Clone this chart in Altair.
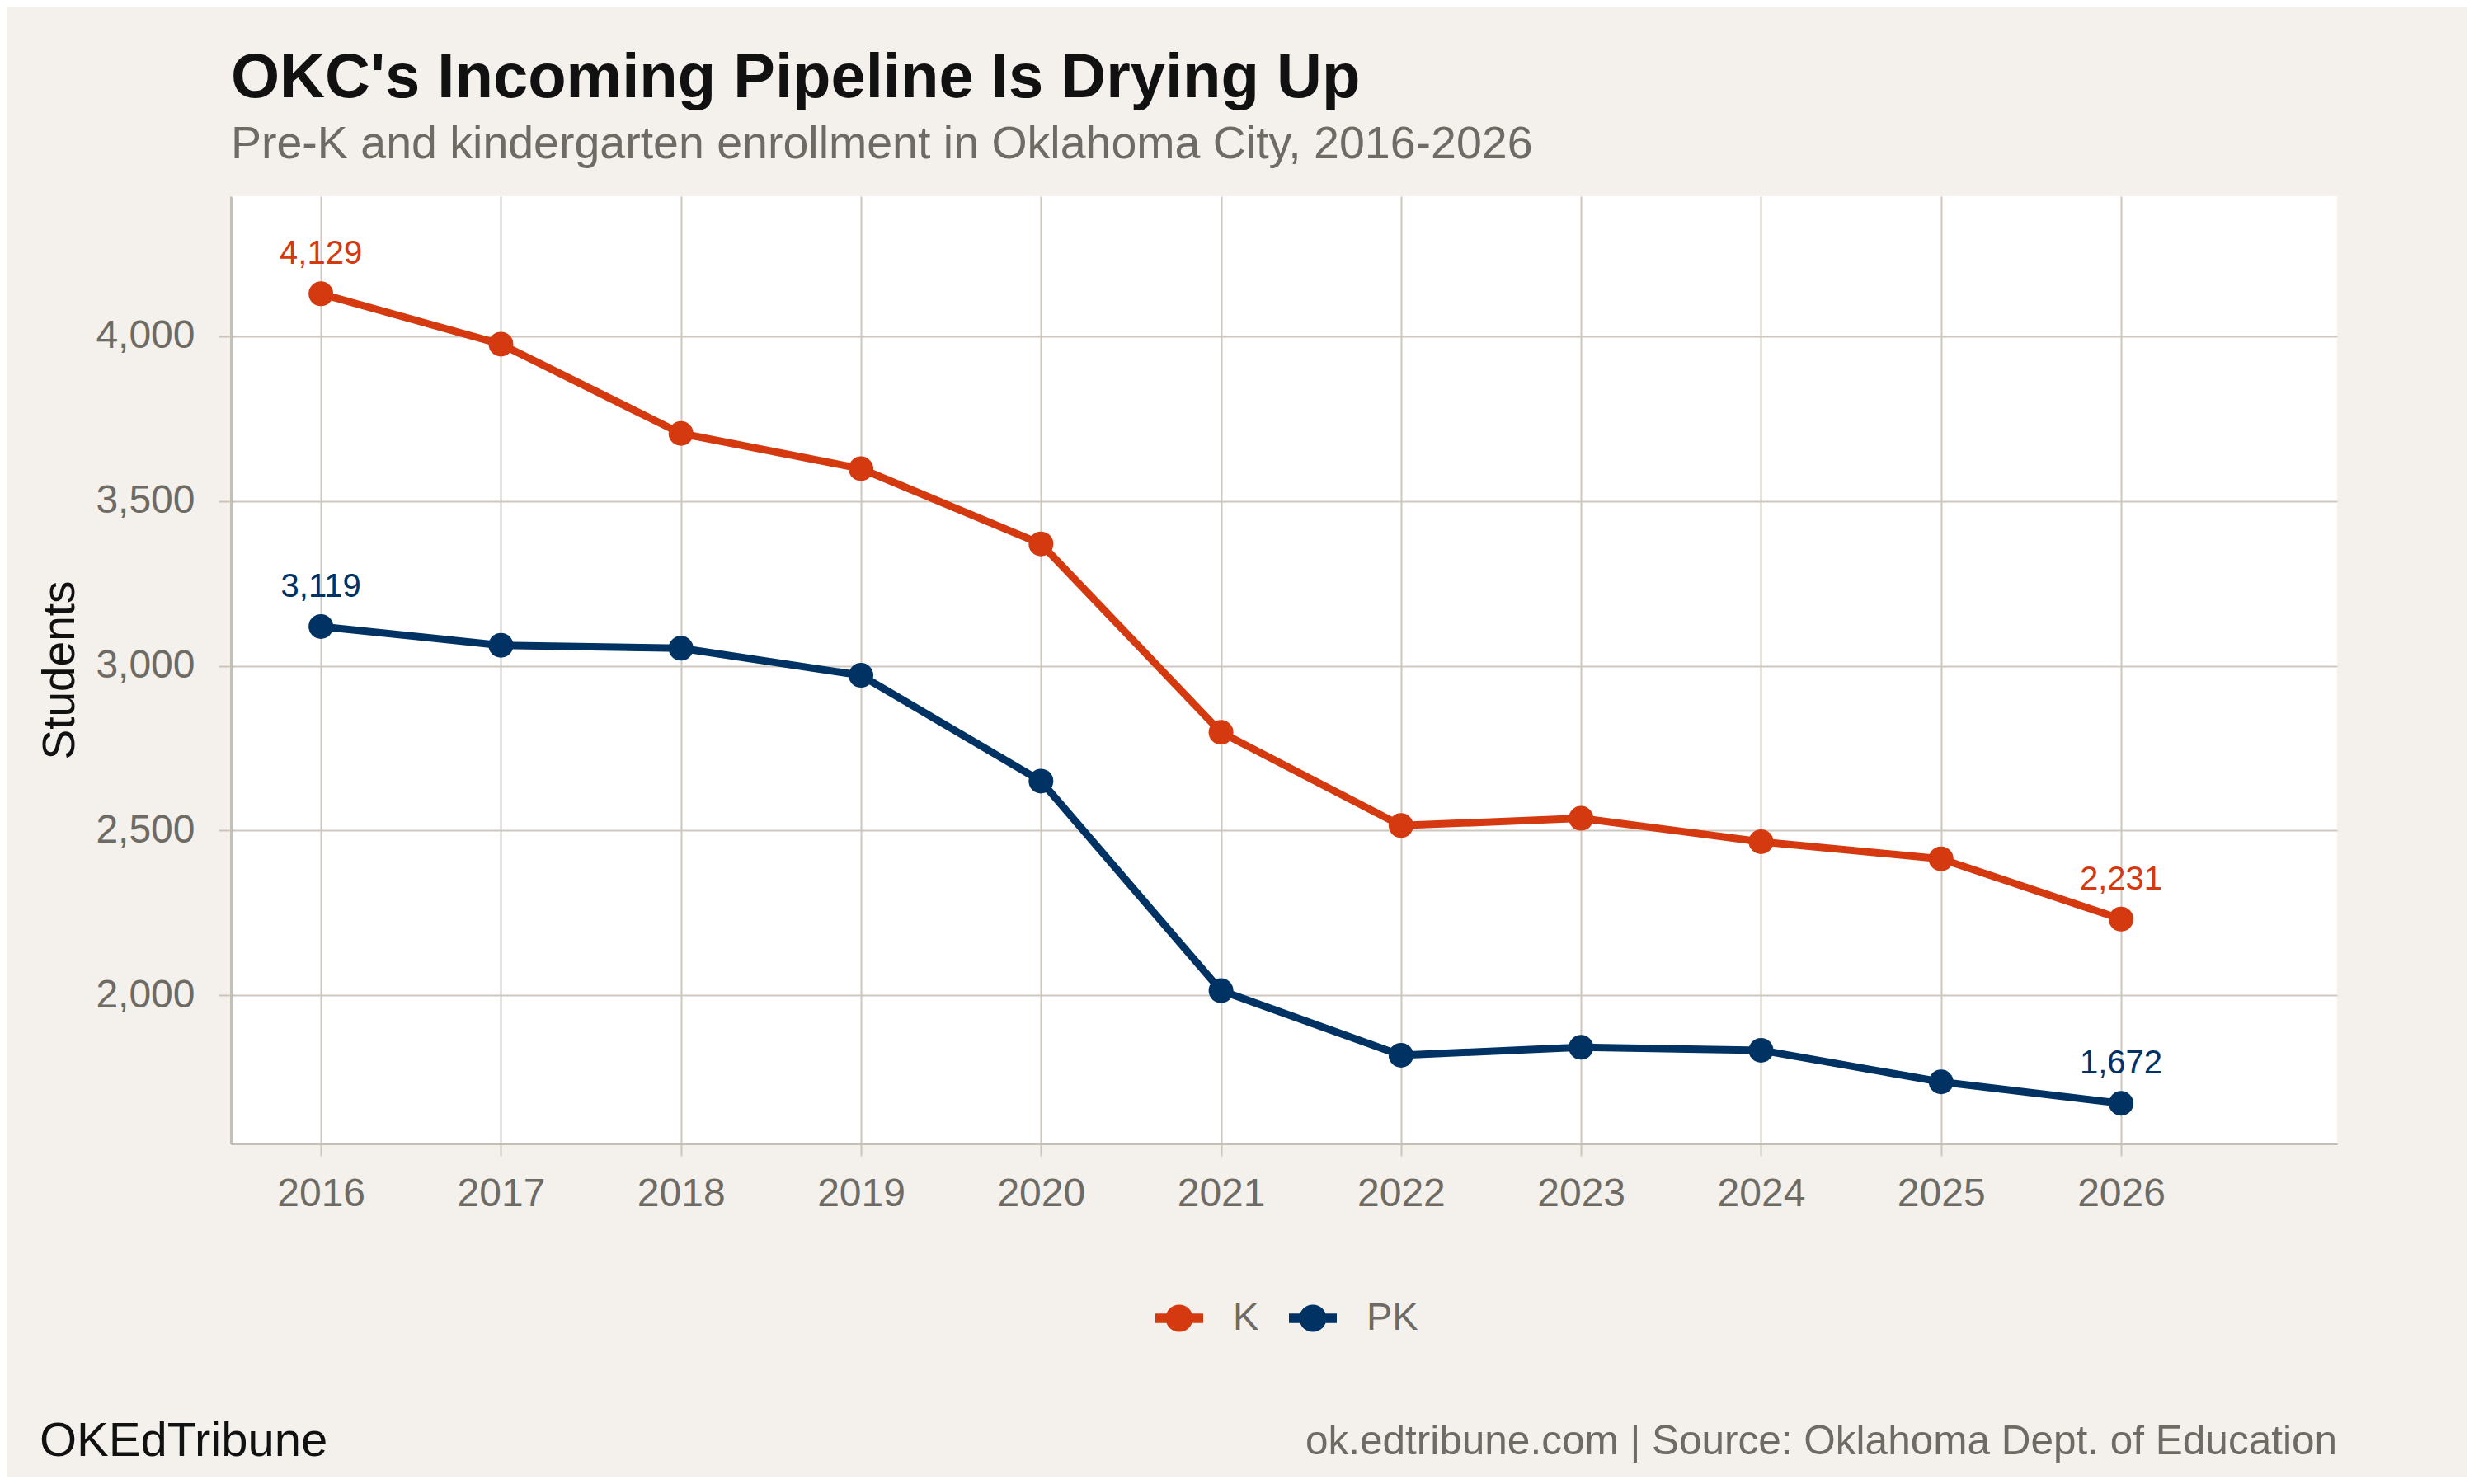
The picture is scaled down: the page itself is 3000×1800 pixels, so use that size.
import altair as alt
import pandas as pd

years = list(range(2016, 2027))
k_values = [4129, 3976, 3705, 3598, 3370, 2798, 2515, 2537, 2466, 2414, 2231]
pk_values = [3119, 3062, 3053, 2971, 2650, 2014, 1818, 1842, 1833, 1737, 1672]
series = ["K", "PK"]
series_colors = ["#D4390F", "#003263"]
y_ticks = [2000, 2500, 3000, 3500, 4000]
title_text = "OKC's Incoming Pipeline Is Drying Up"
subtitle_text = "Pre-K and kindergarten enrollment in Oklahoma City, 2016-2026"
footer_left = ["OKEdTribune"]
footer_right = ["ok.edtribune.com | Source: Oklahoma Dept. of Education"]
y_title = "Students"

FONT = "Liberation Sans"
W, H = 2554, 1149

df = pd.DataFrame({
    "year": years * 2,
    "students": k_values + pk_values,
    "grade": ["K"] * len(years) + ["PK"] * len(years),
})

x_enc = alt.X("year:Q", scale=alt.Scale(domain=[2015.5, 2027.2], nice=False, zero=False),
              axis=alt.Axis(values=years, format="d", title=None, labelPadding=22,
                            tickSize=15, labelFontSize=48))
y_enc = alt.Y("students:Q", scale=alt.Scale(domain=[1550, 4425], nice=False, zero=False),
              axis=alt.Axis(values=y_ticks, format=",.0f", title=y_title, labelPadding=29,
                            tickSize=15, labelFontSize=48, titlePadding=14,
                            titleFontSize=55, titleColor="#111111",
                            titleFontWeight="normal", titleFont=FONT))

base = alt.Chart(df)

lines = base.mark_line(strokeWidth=9, strokeJoin="round").encode(
    x=x_enc, y=y_enc,
    stroke=alt.Stroke("grade:N", scale=alt.Scale(domain=series, range=series_colors),
                      legend=None),
)

legend_path = ("M-1,-0.2L1,-0.2L1,0.2L-1,0.2Z "
               "M0.57,0A0.57,0.57 0 1,1 -0.57,0A0.57,0.57 0 1,1 0.57,0Z")

points = base.mark_point(filled=True, size=900, opacity=1).encode(
    x=x_enc, y=y_enc,
    color=alt.Color("grade:N", scale=alt.Scale(domain=series, range=series_colors),
                    legend=alt.Legend(title=None, orient="none", direction="horizontal",
                                      legendX=1121, legendY=1332,
                                      symbolType=legend_path, symbolSize=3364,
                                      symbolStrokeWidth=0, symbolOpacity=1,
                                      labelFontSize=47, labelColor="#6e6a64",
                                      labelFont=FONT, labelOffset=36,
                                      columnPadding=36, padding=0)),
)

labels = base.mark_text(fontSize=40, font=FONT, dy=-36, baseline="alphabetic",
                        align="center").encode(
    x=x_enc, y=y_enc,
    text=alt.Text("students:Q", format=","),
    fill=alt.Fill("grade:N", scale=alt.Scale(domain=series, range=series_colors),
                  legend=None),
).transform_filter(
    (alt.datum.year == 2016) | (alt.datum.year == 2026)
)

foot_l = alt.Chart(pd.DataFrame({"t": footer_left})).mark_text(
    fontSize=58, font=FONT, color="#111111", align="left", baseline="alphabetic"
).encode(x=alt.value(-232), y=alt.value(1528), text="t:N")

foot_r = alt.Chart(pd.DataFrame({"t": footer_right})).mark_text(
    fontSize=49.5, font=FONT, color="#6e6a64", align="right", baseline="alphabetic"
).encode(x=alt.value(W), y=alt.value(1526), text="t:N")

chart = alt.layer(lines, points, labels, foot_l, foot_r).resolve_scale(
    color="independent", stroke="independent", fill="independent"
).properties(
    width=W, height=H,
    autosize=alt.AutoSizeParams(type="none"),
    padding={"left": 272, "top": 230, "right": 158, "bottom": 405},
    background="#F4F1EC",
    title=alt.TitleParams(
        text=title_text, subtitle=subtitle_text, anchor="start", frame="group",
        fontSize=76, font=FONT, fontWeight="bold", color="#111111",
        subtitleFontSize=55.5, subtitleFont=FONT, subtitleColor="#6e6a64",
        subtitlePadding=14, offset=34,
    ),
).configure_view(
    fill="white", stroke=None
).configure_axis(
    labelFont=FONT, labelColor="#6e6a64", gridColor="#CDC7BE", gridWidth=2,
    domainColor="#C5BFB5", domainWidth=3, tickColor="#CAC4BB", tickWidth=2,
    grid=True,
)

chart.save("out.html", embed_options={"renderer": "svg", "actions": False})
